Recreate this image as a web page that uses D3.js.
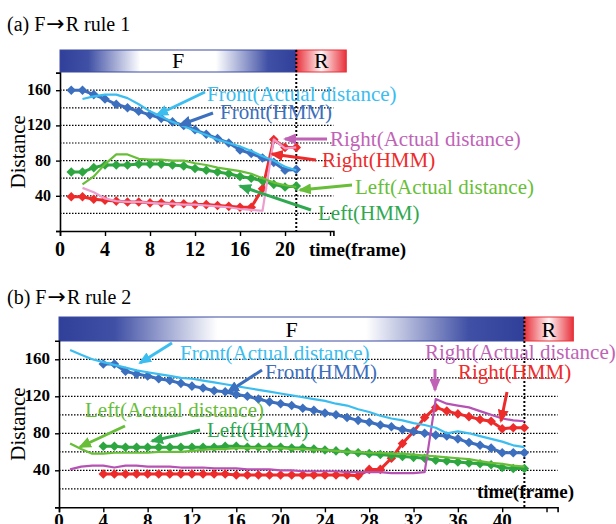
<!DOCTYPE html>
<html>
<head>
<meta charset="utf-8">
<script src="https://cdn.jsdelivr.net/npm/d3@7"></script>
<style>
  body { margin: 0; background: #fff; }
  text { font-family: "Liberation Serif", "Times New Roman", serif; }
</style>
</head>
<body>
<div id="chart"></div>
<script>
// ---- data (distance per frame) ----
// panel (a): frames 1..21
const topFrontHMM    = [160,160,155,150,144,140,136,132,128,124,120,115,110,105,100,92,88,83,78,69,70];
const topFrontActual = [150,153,155,155,151,144,136,130,124,119,114,109,104,100,96,91,85,80,73,69]; // from frame 2
const topLeftHMM     = [67,67,72,75,75,75,76,76,76,75,74,71,69,67,65,62,60,57,53,50,51];
const topLeftActual  = [53,62,76,87,87,82,81,81,80,80,77,75,72,70,68,65,60,55,52,50];             // from frame 2
const topRightHMM    = [39,39,36,35,34,33,33,32,32,31,31,30,30,29,28,27,27,48,104,95,95];
const topRightActual = [49,44,37,34,33,33,32,31,31,30,30,29,28,27,25,24,23,104,94,95];             // from frame 2

// panel (b): HMM from frame 4, actual from frame 1, up to frame 42
const botFrontHMM    = [155,155,147,144,142,139,137,134,131,129,126,125,122,120,117,114,112,110,107,105,
                        102,100,97,94,92,89,87,84,82,80,78,77,74,70,67,64,59,59,59];
const botFrontActual = [170,165,160,157,154,151,148,146,144,142,140,139,137,135,133,131,129,127,125,123,
                        121,119,117,115,112,110,106,103,99,96,94,91,89,86,80,82,80,77,74,71,67,65];
const botLeftHMM     = [66,66,65,65,65,65,65,65,65,65,65,66,66,65,65,65,65,64,64,63,
                        62,61,60,59,58,57,56,55,54,53,51,50,49,48,47,46,43,42,42];
const botLeftActual  = [69,63,58,58,59,59,59,59,60,60,60,61,62,63,63,64,64,64,64,64,
                        63,63,62,62,61,60,60,59,59,58,58,57,56,55,54,53,52,50,48,47,45,44];
const botRightHMM    = [36,36,36,36,36,36,36,36,36,36,36,36,35,35,35,35,35,35,35,35,
                        35,35,35,34,41,41,53,69,82,97,108,104,101,98,95,93,85,86,86];
const botRightActual = [41,44,45,45,43,45,45,44,44,44,43,43,43,42,42,42,41,41,41,40,
                        40,39,39,39,39,38,38,38,38,37,37,37,38,117,112,110,108,104,100,96,94,93];

const yTicks = [40, 80, 120, 160];
const gridValues = [20, 40, 60, 80, 100, 120, 140, 160];

const colors = {
  frontHMM: "#3c6fbd", frontActual: "#3bbdf0",
  leftHMM: "#2ea640", leftActual: "#68be38",
  rightHMM: "#ee2b2b", rightActualA: "#eb9fd0", rightActualB: "#b652b4",
  rightLabel: "#c063b6", leftHMMLabel: "#2fa850"
};

const svg = d3.select("#chart").append("svg")
  .attr("width", 616).attr("height", 524);

const defs = svg.append("defs");

// band gradients
const blueGrad = defs.append("linearGradient").attr("id", "blueBand");
[[0, "#30409a"], [0.12, "#4050a5"], [0.34, "#ffffff"], [0.66, "#ffffff"], [0.88, "#4050a5"], [1, "#30409a"]]
  .forEach(s => blueGrad.append("stop").attr("offset", s[0]).attr("stop-color", s[1]));
const redGrad = defs.append("linearGradient").attr("id", "redBand");
[[0, "#e8303a"], [0.5, "#fff4f4"], [1, "#e8303a"]]
  .forEach(s => redGrad.append("stop").attr("offset", s[0]).attr("stop-color", s[1]));

// arrow heads, one per colour
function arrowId(c) { return "arr" + c.replace("#", ""); }
Object.values(colors).forEach(c => {
  defs.append("marker")
    .attr("id", arrowId(c))
    .attr("markerUnits", "userSpaceOnUse")
    .attr("markerWidth", 13).attr("markerHeight", 11)
    .attr("refX", 11).attr("refY", 5.5)
    .attr("orient", "auto")
    .append("path").attr("d", "M0,0 L13,5.5 L0,11 Z").attr("fill", c);
});

const panels = [
  {
    title: ["(a) F", "R rule 1"], titleY: 31,
    xMax: 24.3, xRange: [60, 333.4], yRange: [231, 72.6],
    xTicks: [0, 4, 8, 12, 16, 20, 24], xLabels: [0, 4, 8, 12, 16, 20],
    xLabelY: 256, xFont: 20, yFont: 16,
    band: [50, 72], switchFrame: 21, rWidth: 50,
    timeLabel: [309, 256],
    rightActualColor: colors.rightActualA,
    series: [
      { key: "rightHMM", start: 1, values: topRightHMM, hmm: true },
      { key: "leftHMM", start: 1, values: topLeftHMM, hmm: true },
      { key: "frontHMM", start: 1, values: topFrontHMM, hmm: true },
      { key: "rightActual", start: 2, values: topRightActual },
      { key: "leftActual", start: 2, values: topLeftActual },
      { key: "frontActual", start: 2, values: topFrontActual }
    ],
    notes: [
      { text: "Front(Actual distance)", c: colors.frontActual, at: [207, 101], from: [205, 92], to: [157, 115] },
      { text: "Front(HMM)", c: colors.frontHMM, at: [220, 119], from: [213, 113], to: [180, 125] },
      { text: "Right(Actual distance)", c: colors.rightLabel, at: [330, 146], from: [327, 139], to: [285, 139] },
      { text: "Right(HMM)", c: colors.rightHMM, at: [322, 167], from: [316, 160], to: [272, 154] },
      { text: "Left(Actual distance)", c: colors.leftActual, at: [355, 194], from: [352, 185], to: [300, 190] },
      { text: "Left(HMM)", c: colors.leftHMMLabel, at: [318, 220], from: [311, 210], to: [240, 186] }
    ]
  },
  {
    title: ["(b) F", "R rule 2"], titleY: 304,
    xMax: 45, xRange: [59, 557.6], yRange: [507.3, 340.8],
    xTicks: [0, 4, 8, 12, 16, 20, 24, 28, 32, 36, 40, 44], xLabels: [0, 4, 8, 12, 16, 20, 24, 28, 32, 36, 40],
    xLabelY: 527, xFont: 19, yFont: 17,
    band: [317, 341], switchFrame: 42, rWidth: 49,
    timeLabel: [477, 498],
    rightActualColor: colors.rightActualB,
    series: [
      { key: "rightHMM", start: 4, values: botRightHMM, hmm: true },
      { key: "leftHMM", start: 4, values: botLeftHMM, hmm: true },
      { key: "frontHMM", start: 4, values: botFrontHMM, hmm: true },
      { key: "rightActual", start: 1, values: botRightActual },
      { key: "leftActual", start: 1, values: botLeftActual },
      { key: "frontActual", start: 1, values: botFrontActual }
    ],
    notes: [
      { text: "Front(Actual distance)", c: colors.frontActual, at: [180, 360], from: [172, 343], to: [140, 363] },
      { text: "Front(HMM)", c: colors.frontHMM, at: [265, 379], from: [262, 370], to: [228, 392] },
      { text: "Left(Actual distance)", c: colors.leftActual, at: [85, 417], from: [125, 426], to: [80, 447] },
      { text: "Left(HMM)", c: colors.leftHMMLabel, at: [207, 437], from: [200, 430], to: [152, 441] },
      { text: "Right(Actual distance)", c: colors.rightLabel, at: [425, 359], from: [435, 369], to: [435, 390] },
      { text: "Right(HMM)", c: colors.rightHMM, at: [458, 379], from: [507, 392], to: [501, 421] }
    ]
  }
];

panels.forEach(p => {
  const g = svg.append("g");
  const x = d3.scaleLinear().domain([0, p.xMax]).range(p.xRange);
  const y = d3.scaleLinear().domain([0, 180]).range(p.yRange);

  // title, with a wider arrow glyph
  const t = g.append("text").attr("x", 7).attr("y", p.titleY).attr("font-size", 20);
  t.append("tspan").text(p.title[0]);
  t.append("tspan").attr("font-family", "DejaVu Sans").attr("font-size", 22).attr("dx", 1).text("\u2192");
  t.append("tspan").attr("dx", 1).text(p.title[1]);

  // F / R band
  const xs = x(p.switchFrame);
  g.append("rect").attr("x", x(0)).attr("y", p.band[0])
    .attr("width", xs - x(0)).attr("height", p.band[1] - p.band[0])
    .attr("fill", "url(#blueBand)").attr("stroke", "#3a4aa0").attr("stroke-width", 1);
  g.append("rect").attr("x", xs).attr("y", p.band[0])
    .attr("width", p.rWidth).attr("height", p.band[1] - p.band[0])
    .attr("fill", "url(#redBand)").attr("stroke", "#e8303a").attr("stroke-width", 1);
  g.append("text").attr("x", (x(0) + xs) / 2).attr("y", p.band[1] - 4)
    .attr("text-anchor", "middle").attr("font-size", 22).text("F");
  g.append("text").attr("x", xs + p.rWidth / 2).attr("y", p.band[1] - 4)
    .attr("text-anchor", "middle").attr("font-size", 22).text("R");

  // dotted grid
  g.selectAll(".grid").data(gridValues).enter().append("line")
    .attr("x1", x(0)).attr("x2", x(p.xMax))
    .attr("y1", d => y(d)).attr("y2", d => y(d))
    .attr("stroke", "#000").attr("stroke-width", 1.2).attr("stroke-dasharray", "1.5,1.5");

  // axes
  const xAxis = g.append("g").attr("transform", `translate(0,${y(0)})`)
    .call(d3.axisBottom(x).tickValues(p.xTicks).tickSize(5).tickFormat(""));
  xAxis.select(".domain").attr("stroke-width", 1.6);
  const yAxis = g.append("g").attr("transform", `translate(${x(0)},0)`)
    .call(d3.axisLeft(y).tickValues([0].concat(yTicks)).tickSize(4).tickFormat(""));
  yAxis.select(".domain").attr("stroke-width", 1.6);
  [xAxis, yAxis].forEach(a => a.selectAll("line").attr("stroke-width", 1.4));

  g.selectAll(".xl").data(p.xLabels).enter().append("text")
    .attr("x", d => x(d)).attr("y", p.xLabelY)
    .attr("text-anchor", "middle").attr("font-weight", "bold").attr("font-size", p.xFont)
    .text(d => d);
  g.selectAll(".yl").data(yTicks).enter().append("text")
    .attr("x", x(0) - 9).attr("y", d => y(d) + 5)
    .attr("text-anchor", "end").attr("font-weight", "bold").attr("font-size", p.yFont)
    .text(d => d);

  g.append("text").attr("x", p.timeLabel[0]).attr("y", p.timeLabel[1])
    .attr("font-weight", "bold").attr("font-size", 19).text("time(frame)");
  const yMid = (p.yRange[0] + p.yRange[1]) / 2;
  g.append("text").attr("transform", `translate(25,${yMid}) rotate(-90)`)
    .attr("text-anchor", "middle").attr("font-size", 21).text("Distance");

  // switch line F -> R
  g.append("line").attr("x1", xs).attr("x2", xs)
    .attr("y1", p.band[0]).attr("y2", y(0))
    .attr("stroke", "#000").attr("stroke-width", 2).attr("stroke-dasharray", "2,2");

  // series
  const line = d3.line().x(d => x(d.f)).y(d => y(d.v));
  const diamond = d3.symbol().type(d3.symbolSquare).size(46);
  p.series.forEach(s => {
    const pts = s.values.map((v, i) => ({ f: s.start + i, v: v }));
    const c = s.key === "rightActual" ? p.rightActualColor : colors[s.key];
    g.append("path").datum(pts).attr("d", line)
      .attr("fill", "none").attr("stroke", c)
      .attr("stroke-width", s.hmm ? 3 : 2.2)
      .attr("stroke-linejoin", "round");
    if (s.hmm) {
      g.selectAll(null).data(pts).enter().append("path")
        .attr("d", diamond)
        .attr("transform", d => `translate(${x(d.f)},${y(d.v)}) rotate(45)`)
        .attr("fill", c);
    }
  });

  // annotations
  p.notes.forEach(n => {
    g.append("line")
      .attr("x1", n.from[0]).attr("y1", n.from[1])
      .attr("x2", n.to[0]).attr("y2", n.to[1])
      .attr("stroke", n.c).attr("stroke-width", 3)
      .attr("marker-end", `url(#${arrowId(n.c)})`);
    g.append("text").attr("x", n.at[0]).attr("y", n.at[1])
      .attr("font-size", 21).attr("fill", n.c).text(n.text);
  });
});
</script>
</body>
</html>
